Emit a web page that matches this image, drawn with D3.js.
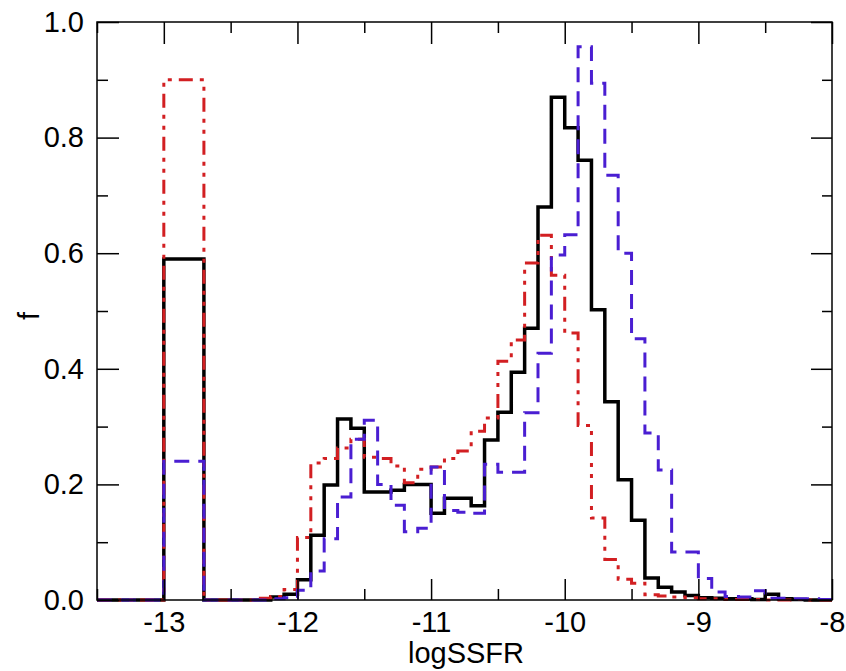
<!DOCTYPE html>
<html>
<head>
<meta charset="UTF-8">
<title>logSSFR</title>
<script src="https://d3js.org/d3.v7.min.js"></script>
<style>
    body { margin: 0; background: #fff; }
    .lbl { font-family: "Liberation Sans", Arial, sans-serif; font-size: 29px; fill: #000; }
</style>
</head>
<body>
<svg width="846" height="671"></svg>
<script>

// bin edges (first bin = empty left margin, second bin = the -13 "no SFR" bin)
const binEdges = [-13.5, -13.0, -12.7, -12.6, -12.5, -12.4, -12.3, -12.2, -12.1, -12.0,
    -11.9, -11.8, -11.7, -11.6, -11.5, -11.4, -11.3, -11.2, -11.1, -11.0,
    -10.9, -10.8, -10.7, -10.6, -10.5, -10.4, -10.3, -10.2, -10.1, -10.0,
    -9.9, -9.8, -9.7, -9.6, -9.5, -9.4, -9.3, -9.2, -9.1, -9.0,
    -8.9, -8.8, -8.7, -8.6, -8.5, -8.4, -8.3, -8.2, -8.1, -8.0]

const fBlack = [0, 0.59, 0, 0, 0, 0, 0, 0.005, 0.01, 0.035,
    0.112, 0.199, 0.313, 0.297, 0.187, 0.187, 0.19, 0.2, 0.2, 0.15,
    0.176, 0.176, 0.163, 0.277, 0.325, 0.394, 0.47, 0.68, 0.87, 0.817,
    0.761, 0.502, 0.343, 0.208, 0.138, 0.038, 0.022, 0.014, 0.008, 0.004,
    0.003, 0.002, 0.002, 0.001, 0.01, 0.002, 0.001, 0, 0]

const fRed = [0, 0.90, 0, 0, 0, 0, 0.003, 0.006, 0.018, 0.108,
    0.237, 0.245, 0.263, 0.278, 0.247, 0.245, 0.232, 0.203, 0.226, 0.23,
    0.245, 0.258, 0.292, 0.315, 0.413, 0.45, 0.583, 0.631, 0.562, 0.462,
    0.302, 0.142, 0.07, 0.036, 0.029, 0.009, 0.007, 0.005, 0.004, 0.002,
    0.002, 0.001, 0.001, 0.001, 0, 0, 0.001, 0, 0]

const fBlue = [0, 0.24, 0, 0, 0, 0, 0, 0.002, 0.004, 0.017,
    0.05, 0.106, 0.178, 0.278, 0.311, 0.2, 0.164, 0.118, 0.124, 0.23,
    0.155, 0.152, 0.15, 0.235, 0.221, 0.221, 0.324, 0.427, 0.597, 0.632,
    0.957, 0.894, 0.735, 0.6, 0.452, 0.289, 0.225, 0.083, 0.083, 0.037,
    0.014, 0.006, 0.005, 0.016, 0.003, 0.003, 0.002, 0.002, 0.001]

const xMajor = [-13, -12, -11, -10, -9, -8]
const xMinor = [-13.5, -12.5, -11.5, -10.5, -9.5, -8.5]
const yMajor = [0, 0.2, 0.4, 0.6, 0.8, 1.0]
const yMinor = [0.1, 0.3, 0.5, 0.7, 0.9]

const svg = d3.select("svg")

const x = d3.scaleLinear().domain([-13.5, -8]).range([97, 832])
const y = d3.scaleLinear().domain([0, 1]).range([600, 22])

function steps(vals) {
    const pts = vals.map(function (v, i) { return [binEdges[i], v] })
    pts.push([binEdges[binEdges.length - 1], vals[vals.length - 1]])
    return pts
}

const line = d3.line()
    .x(function (d) { return x(d[0]) })
    .y(function (d) { return y(d[1]) })
    .curve(d3.curveStepAfter)

// black solid
svg.append("path")
    .attr("d", line(steps(fBlack)))
    .attr("fill", "none")
    .attr("stroke", "black")
    .attr("stroke-width", 3.5)

// red dash-dot-dot
svg.append("path")
    .attr("d", line(steps(fRed)))
    .attr("fill", "none")
    .attr("stroke", "#d21f22")
    .attr("stroke-width", 3)
    .attr("stroke-dasharray", "14,7,4,7,4,7")

// blue dashed
svg.append("path")
    .attr("d", line(steps(fBlue)))
    .attr("fill", "none")
    .attr("stroke", "#4a1ed2")
    .attr("stroke-width", 3)
    .attr("stroke-dasharray", "15,9")

// axes, ticks pointing inwards
function styleAxis(g) {
    g.select(".domain").remove()
    g.selectAll("line").attr("stroke", "black").attr("stroke-width", 1.5)
    g.selectAll("text").attr("class", "lbl")
}

svg.append("g").attr("transform", "translate(0,600)")
    .call(d3.axisBottom(x).tickValues(xMajor).tickSize(-21).tickPadding(11)
        .tickFormat(function (d) { return String(d) }))
    .call(styleAxis)
svg.append("g").attr("transform", "translate(0,600)")
    .call(d3.axisBottom(x).tickValues(xMinor).tickSize(-11).tickFormat(""))
    .call(styleAxis)
svg.append("g").attr("transform", "translate(0,22)")
    .call(d3.axisTop(x).tickValues(xMajor).tickSize(-22).tickFormat(""))
    .call(styleAxis)
svg.append("g").attr("transform", "translate(0,22)")
    .call(d3.axisTop(x).tickValues(xMinor).tickSize(-11).tickFormat(""))
    .call(styleAxis)

svg.append("g").attr("transform", "translate(97,0)")
    .call(d3.axisLeft(y).tickValues(yMajor).tickSize(-22).tickPadding(13)
        .tickFormat(d3.format(".1f")))
    .call(styleAxis)
svg.append("g").attr("transform", "translate(97,0)")
    .call(d3.axisLeft(y).tickValues(yMinor).tickSize(-11).tickFormat(""))
    .call(styleAxis)
svg.append("g").attr("transform", "translate(832,0)")
    .call(d3.axisRight(y).tickValues(yMajor).tickSize(-21).tickFormat(""))
    .call(styleAxis)
svg.append("g").attr("transform", "translate(832,0)")
    .call(d3.axisRight(y).tickValues(yMinor).tickSize(-10).tickFormat(""))
    .call(styleAxis)

// frame
svg.append("rect")
    .attr("x", 97).attr("y", 22)
    .attr("width", 832 - 97).attr("height", 600 - 22)
    .attr("fill", "none")
    .attr("stroke", "black")
    .attr("stroke-width", 1.5)

svg.append("text")
    .attr("class", "lbl")
    .attr("x", 466).attr("y", 663)
    .attr("text-anchor", "middle")
    .text("logSSFR")

svg.append("text")
    .attr("class", "lbl")
    .attr("transform", "translate(39,316) rotate(-90)")
    .attr("text-anchor", "middle")
    .text("f")

</script>
</body>
</html>
